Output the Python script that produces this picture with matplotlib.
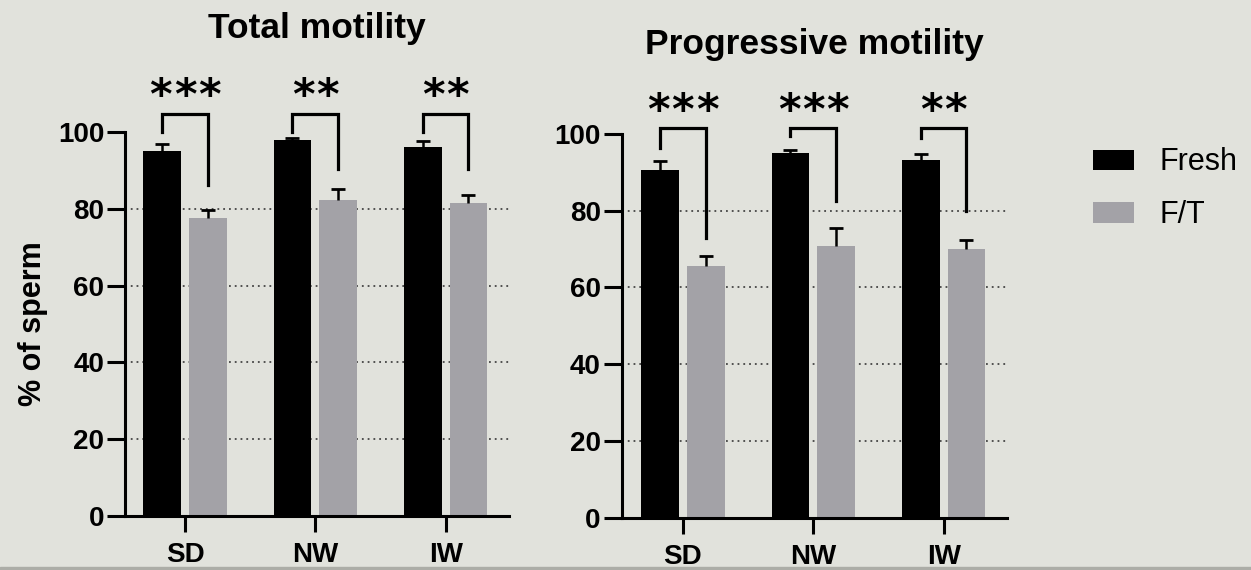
import matplotlib
matplotlib.use('Agg')
import matplotlib.pyplot as plt
import matplotlib.transforms as mtransforms
import numpy as np
from matplotlib.patches import Patch, Rectangle

# ---------------------------
# Data
# ---------------------------
groups = ['SD', 'NW', 'IW']
series = ['Fresh', 'F/T']

total_fresh = [95.1, 98.0, 96.1]
total_fresh_err = [1.7, 0.4, 1.5]
total_ft = [77.6, 82.4, 81.6]
total_ft_err = [2.2, 2.7, 2.0]

prog_fresh = [90.7, 95.0, 93.3]
prog_fresh_err = [2.3, 0.7, 1.5]
prog_ft = [65.7, 70.9, 69.9]
prog_ft_err = [2.4, 4.6, 2.5]

total_stars = ['***', '**', '**']
prog_stars = ['***', '***', '**']

# bracket heights (top, left leg bottom, right leg bottom)
total_br_top = 104.8
total_br_left = [100.0, 100.0, 100.0]
total_br_right = [86.3, 90.4, 90.4]
prog_br_top = 101.4
prog_br_left = [96.2, 99.3, 98.9]
prog_br_right = [72.8, 82.5, 79.9]

bg = '#e1e2dc'
grey = '#a3a2a7'
W, H = 1251, 570

plt.rcParams['font.family'] = ['Liberation Sans', 'DejaVu Sans']

fig = plt.figure(figsize=(W / 100, H / 100), dpi=100, facecolor=bg)
fig.patches.append(Rectangle((0, 0), 1, 3 / H, transform=fig.transFigure,
                             color='#acada7', zorder=0))


def draw_bars(ax, xpos, vals, errs, color):
    bc = ax.bar(xpos, vals, 0.29, color=color, zorder=2,
                yerr=[np.zeros(len(vals)), errs],
                error_kw=dict(ecolor='black', elinewidth=1.8, capsize=5, capthick=2))
    # hide the cap sitting on top of the bar (only the upper error is shown)
    caps = bc.errorbar.lines[1]
    low = min(caps, key=lambda c: np.sum(c.get_ydata()))
    low.set_visible(False)
    return bc


def put_stars(ax, xc, y, label):
    # Prism-style asterisks are spaced a bit wider than the font does it
    n = len(label)
    for k, ch in enumerate(label):
        dx = (k - (n - 1) / 2) * 17.5  # points
        tr = mtransforms.offset_copy(ax.transData, fig=fig, x=dx, y=0, units='points')
        ax.text(xc, y, ch, transform=tr, ha='center', va='center',
                fontsize=31, fontweight='bold', family='DejaVu Sans')


def panel(rect, fresh, fresh_err, ft, ft_err, stars, br_top, br_left, br_right,
          star_y, title, title_y, xlim_left):
    ax = fig.add_axes(rect)
    ax.set_facecolor(bg)
    x = np.arange(len(groups))
    off = 0.175
    for g in [20, 40, 60, 80]:
        ax.axhline(g, color='#444444', lw=1.3, ls=(0, (1, 2.2)), zorder=0)
    draw_bars(ax, x - off, fresh, fresh_err, 'black')
    draw_bars(ax, x + off, ft, ft_err, grey)
    for i in range(len(groups)):
        ax.plot([x[i] - off, x[i] - off, x[i] + off, x[i] + off],
                [br_left[i], br_top, br_top, br_right[i]],
                color='black', lw=2.3, clip_on=False, zorder=3,
                solid_joinstyle='miter')
        put_stars(ax, x[i], star_y, stars[i])
    ax.set_ylim(0, 100)
    ax.set_xlim(xlim_left, 2.486)
    ax.set_yticks([0, 20, 40, 60, 80, 100])
    ax.set_xticks(x)
    ax.set_xticklabels(groups)
    for s in ['top', 'right']:
        ax.spines[s].set_visible(False)
    for s in ['left', 'bottom']:
        ax.spines[s].set_linewidth(2.2)
    ax.tick_params(axis='y', length=13, width=2.2, pad=2, labelsize=20)
    ax.tick_params(axis='x', length=11.5, width=2.2, pad=7, labelsize=20)
    for lab in ax.get_xticklabels() + ax.get_yticklabels():
        lab.set_fontweight('bold')
    ax.text(0.5, title_y, title, transform=ax.transAxes, ha='center',
            va='baseline', fontsize=25.5, fontweight='bold')
    return ax


ax1 = panel([125 / W, 54 / H, 384 / W, 384 / H], total_fresh, total_fresh_err,
            total_ft, total_ft_err, total_stars, total_br_top, total_br_left,
            total_br_right, 109.2, 'Total motility', 1.245, -0.46)
ax1.set_ylabel('% of sperm', fontsize=22, fontweight='bold')
ax1.yaxis.set_label_coords(-0.201, 0.5)

ax2 = panel([621.6 / W, 52 / H, 385.4 / W, 384.2 / H], prog_fresh, prog_fresh_err,
            prog_ft, prog_ft_err, prog_stars, prog_br_top, prog_br_left,
            prog_br_right, 105.7, 'Progressive motility', 1.208, -0.47)

handles = [Patch(facecolor='black', label=series[0]),
           Patch(facecolor=grey, label=series[1])]
fig.legend(handles=handles, loc='upper left',
           bbox_to_anchor=(1093 / W, 1 - 147.5 / H), frameon=False,
           fontsize=22, handlelength=1.34, handleheight=0.65,
           handletextpad=0.82, labelspacing=0.75, borderpad=0,
           borderaxespad=0)

fig.savefig('out.png', dpi=100, facecolor=bg)
